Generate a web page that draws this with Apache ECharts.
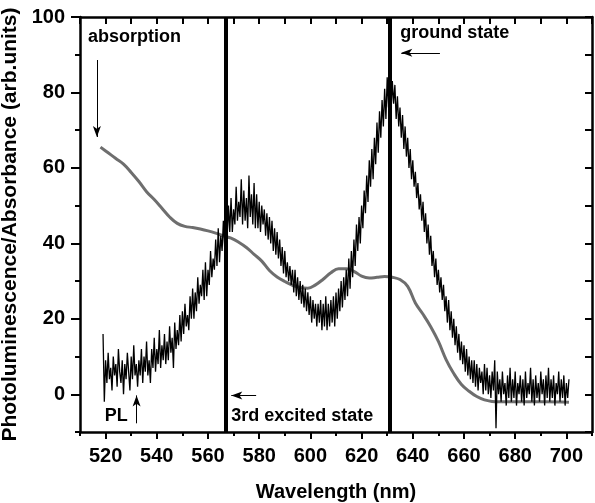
<!DOCTYPE html>
<html>
<head>
<meta charset="utf-8">
<script src="https://cdn.jsdelivr.net/npm/echarts@6/dist/echarts.min.js"></script>
<style>
html,body{margin:0;padding:0;background:#fff;}
#chart{width:595px;height:503px;}
</style>
</head>
<body>
<div id="chart"></div>
<script>
// ---- data ----
const plWavelength = [
519,519.5,520,520.5,521,521.5,522,522.5,523,523.5,
524,524.5,525,525.5,526,526.5,527,527.5,528,528.5,
529,529.5,530,530.5,531,531.5,532,532.5,533,533.5,
534,534.5,535,535.5,536,536.5,537,537.5,538,538.5,
539,539.5,540,540.5,541,541.5,542,542.5,543,543.5,
544,544.5,545,545.5,546,546.5,547,547.5,548,548.5,
549,549.5,550,550.5,551,551.5,552,552.5,553,553.5,
554,554.5,555,555.5,556,556.5,557,557.5,558,558.5,
559,559.5,560,560.5,561,561.5,562,562.5,563,563.5,
564,564.5,565,565.5,566,566.5,567,567.5,568,568.5,
569,569.5,570,570.5,571,571.5,572,572.5,573,573.5,
574,574.5,575,575.5,576,576.5,577,577.5,578,578.5,
579,579.5,580,580.5,581,581.5,582,582.5,583,583.5,
584,584.5,585,585.5,586,586.5,587,587.5,588,588.5,
589,589.5,590,590.5,591,591.5,592,592.5,593,593.5,
594,594.5,595,595.5,596,596.5,597,597.5,598,598.5,
599,599.5,600,600.5,601,601.5,602,602.5,603,603.5,
604,604.5,605,605.5,606,606.5,607,607.5,608,608.5,
609,609.5,610,610.5,611,611.5,612,612.5,613,613.5,
614,614.5,615,615.5,616,616.5,617,617.5,618,618.5,
619,619.5,620,620.5,621,621.5,622,622.5,623,623.5,
624,624.5,625,625.5,626,626.5,627,627.5,628,628.5,
629,629.5,630,630.5,631,631.5,632,632.5,633,633.5,
634,634.5,635,635.5,636,636.5,637,637.5,638,638.5,
639,639.5,640,640.5,641,641.5,642,642.5,643,643.5,
644,644.5,645,645.5,646,646.5,647,647.5,648,648.5,
649,649.5,650,650.5,651,651.5,652,652.5,653,653.5,
654,654.5,655,655.5,656,656.5,657,657.5,658,658.5,
659,659.5,660,660.5,661,661.5,662,662.5,663,663.5,
664,664.5,665,665.5,666,666.5,667,667.5,668,668.5,
669,669.5,670,670.5,671,671.5,672,672.5,673,673.5,
674,674.5,675,675.5,676,676.5,677,677.5,678,678.5,
679,679.5,680,680.5,681,681.5,682,682.5,683,683.5,
684,684.5,685,685.5,686,686.5,687,687.5,688,688.5,
689,689.5,690,690.5,691,691.5,692,692.5,693,693.5,
694,694.5,695,695.5,696,696.5,697,697.5,698,698.5,
699,699.5,700,700.5,701
];
const plValue = [
16,-2,9,3,11,4,7,1,10,5,
8,2,12,6,3,9,0,8,4,11,
6,1,10,4,13,5,8,2,9,5,
12,3,10,6,14,5,9,3,12,7,
15,6,12,8,17,7,13,9,16,8,
14,9,18,11,15,7,19,12,17,13,
21,14,22,16,24,18,21,17,26,20,
28,20,27,22,31,24,29,26,33,25,
35,26,33,29,38,31,36,33,41,34,
44,35,42,38,46,39,47,42,50,43,
52,43,49,45,55,46,51,47,57,45,
54,46,52,44,58,47,53,45,56,44,
53,44,51,43,50,45,49,42,48,41,
47,40,46,38,44,37,43,36,41,34,
39,32,38,31,35,30,34,29,33,27,
33,26,31,25,30,24,29,23,28,22,
27,21,26,19,25,20,24,18,24,19,
25,17,24,18,26,17,24,18,25,19,
26,18,27,20,28,22,30,23,31,25,
33,26,36,28,38,31,41,34,45,38,
47,40,50,44,54,48,58,51,62,55,
65,57,68,61,72,64,75,68,78,71,
81,73,84,76,88,75,83,77,82,73,
79,71,76,68,74,65,71,63,68,60,
65,57,62,55,59,52,56,49,53,46,
51,43,48,40,45,37,42,34,38,31,
36,29,33,27,31,25,29,22,26,19,
25,17,22,15,20,13,18,11,16,9,
14,8,13,6,12,5,10,4,9,3,
9,2,8,1,7,3,6,0,8,1,
7,0,5,-1,6,1,9,-9,6,0,
4,-2,6,0,3,-3,5,-1,7,-2,
4,-1,6,-3,3,0,5,-2,4,-3,
6,-1,3,0,7,-2,4,-3,5,-1,
3,-2,6,0,4,-3,5,-1,7,-2,
4,-1,5,-3,3,0,6,-2,4,-1,
5,-3,3,-1,4
];
const absWavelength = [518,521,524,527,530,533,536,539,542,545,548,551,554,557,560,563,566,569,572,575,578,581,584,587,590,593,596,599,602,605,608,611,614,617,620,623,626,629,632,635,638,641,644,647,650,653,656,659,662,665,668,671,674,680,686,692,701];
const absValue = [65.5,64.0,62.5,61.0,58.8,56.4,53.7,51.6,49.3,47.0,45.3,44.5,44.2,43.8,43.3,42.7,42.0,41.4,40.3,38.9,37.1,35.3,32.8,31.1,29.9,28.9,28.3,28.1,29.0,30.5,32.2,33.3,33.3,32.6,31.3,30.8,31.0,31.2,31.0,30.4,28.6,24.2,21.2,17.9,14.0,9.2,5.5,2.6,0.8,-0.6,-1.5,-1.9,-2.0,-2.0,-2.0,-2.0,-2.1];
const stateLines = [567, 631];
const xMajorTicks = [520,540,560,580,600,620,640,660,680,700];
const yMajorTicks = [0,20,40,60,80,100];
const xTitle = 'Wavelength (nm)';
const yTitle = 'Photoluminescence/Absorbance (arb.units)';
// annotation texts with anchor in data coords [x, y]
const noteTexts = ['absorption', 'PL', '3rd excited state', 'ground state'];
const noteAnchors = [[513.1, 94.2], [519.7, -6.4], [569.1, -6.4], [635.1, 95.2]];
// arrows: [x0,y0] -> [x1,y1] (head at end)
const arrowStarts = [[516.6, 88.6], [532.1, -7.7], [578.8, -0.3], [650.6, 90.5]];
const arrowEnds   = [[516.6, 68.2], [532.1, -0.3], [569.1, -0.3], [635.5, 90.5]];

// ---- chart ----
const chart = echarts.init(document.getElementById('chart'));
const FONT = '"Liberation Sans", Arial, Helvetica, sans-serif';
const plData = plWavelength.map((w, i) => [w, plValue[i]]);
const absData = absWavelength.map((w, i) => [w, absValue[i]]);

const markLineData = stateLines.map(v => ({xAxis: v, lineStyle: {width: 4, color: '#000', type: 'solid'}}));
const arrowData = arrowStarts.map((s, i) => [
  {coord: s, symbol: 'none'},
  {coord: arrowEnds[i], symbol: 'arrow', symbolSize: [6, 11]}
]);

const axisLineStyle = {color: '#000', width: 2.5};
const tickStyle = {color: '#000', width: 2};
const labelStyle = {fontFamily: FONT, fontWeight: 'bold', fontSize: 20, color: '#000'};

chart.setOption({
  animation: false,
  backgroundColor: '#fff',
  grid: {left: 80, right: 3, top: 17, bottom: 71, containLabel: false, outerBoundsMode: 'none'},
  xAxis: [{
    type: 'value', min: 510, max: 710, interval: 10, position: 'bottom',
    name: xTitle, nameLocation: 'middle', nameGap: 50,
    nameTextStyle: {fontFamily: FONT, fontWeight: 'bold', fontSize: 20, color: '#000'},
    axisLine: {show: true, onZero: false, lineStyle: axisLineStyle},
    axisTick: {show: true, inside: false, length: 4, lineStyle: tickStyle},
    axisLabel: Object.assign({customValues: xMajorTicks, margin: 14}, labelStyle),
    splitLine: {show: false}
  }, {
    type: 'value', min: 510, max: 710, position: 'bottom',
    axisLine: {show: false, onZero: false},
    axisTick: {show: true, inside: false, length: 7, lineStyle: tickStyle, customValues: xMajorTicks},
    axisLabel: {show: false}, splitLine: {show: false}
  }, {
    type: 'value', min: 510, max: 710, interval: 10, position: 'top',
    axisLine: {show: true, onZero: false, lineStyle: axisLineStyle},
    axisTick: {show: true, inside: true, length: 7, lineStyle: tickStyle},
    axisLabel: {show: false}, splitLine: {show: false}
  }],
  yAxis: [{
    type: 'value', min: -10, max: 100, interval: 10, position: 'left',
    name: yTitle, nameLocation: 'middle', nameGap: 50, nameRotate: 90,
    nameTextStyle: {fontFamily: FONT, fontWeight: 'bold', fontSize: 21, color: '#000'},
    axisLine: {show: true, onZero: false, lineStyle: axisLineStyle},
    axisTick: {show: true, inside: false, length: 5, lineStyle: tickStyle},
    axisLabel: Object.assign({customValues: yMajorTicks, margin: 15}, labelStyle),
    splitLine: {show: false}
  }, {
    type: 'value', min: -10, max: 100, position: 'left',
    axisLine: {show: false, onZero: false},
    axisTick: {show: true, inside: false, length: 9, lineStyle: tickStyle, customValues: yMajorTicks},
    axisLabel: {show: false}, splitLine: {show: false}
  }, {
    type: 'value', min: -10, max: 100, interval: 10, position: 'right',
    axisLine: {show: true, onZero: false, lineStyle: axisLineStyle},
    axisTick: {show: true, inside: true, length: 7, lineStyle: tickStyle},
    axisLabel: {show: false}, splitLine: {show: false}
  }],
  series: [{
    name: 'absorption', type: 'line', data: absData, smooth: 0.4, showSymbol: false,
    lineStyle: {color: '#4a4a4a', width: 3, opacity: 0.8}, z: 2
  }, {
    name: 'PL', type: 'line', data: plData, showSymbol: false,
    lineStyle: {color: '#000', width: 1.3}, z: 3
  }, {
    name: 'marks', type: 'line', data: [], z: 4,
    markLine: {
      silent: true, animation: false, symbol: ['none', 'none'],
      label: {show: false},
      lineStyle: {color: '#000', width: 4, type: 'solid'},
      data: markLineData
    }
  }, {
    name: 'arrows', type: 'line', data: [], z: 5,
    markLine: {
      silent: true, animation: false,
      label: {show: false},
      lineStyle: {color: '#000', width: 1, type: 'solid'},
      itemStyle: {color: '#000'},
      data: arrowData
    }
  }]
});

const graphics = noteTexts.map((t, i) => {
  const p = chart.convertToPixel({xAxisIndex: 0, yAxisIndex: 0}, noteAnchors[i]);
  return {
    type: 'text', left: p[0], top: p[1] - 11, z: 10,
    style: {text: t, fill: '#000', font: 'bold 18px ' + FONT}
  };
});
chart.setOption({graphic: graphics});
</script>
</body>
</html>
